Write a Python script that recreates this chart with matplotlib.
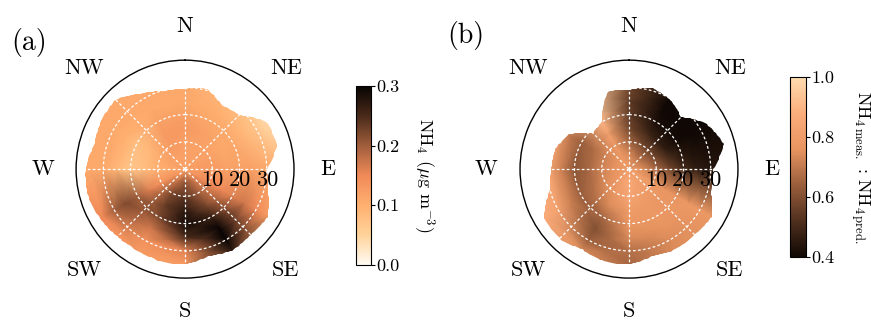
import numpy as np
import matplotlib
matplotlib.use("Agg")
import matplotlib.pyplot as plt
from matplotlib.colors import LinearSegmentedColormap
from matplotlib.patches import PathPatch
from matplotlib.path import Path

plt.rcParams["font.family"] = ["cmr10", "DejaVu Serif"]
plt.rcParams["mathtext.fontset"] = "cm"
plt.rcParams["axes.unicode_minus"] = False
plt.rcParams["axes.formatter.use_mathtext"] = True

# ---------- data ----------
# grid of the polar surface: wind direction (deg, clockwise from N) x wind speed
DIRECTIONS = [0, 30, 60, 90, 120, 150, 180, 210, 240, 270, 300, 330]
SPEEDS = [0, 5, 10, 15, 20, 25, 30, 35, 40]

# (a) NH4 concentration (ug m-3), one row per direction
NH4_A = [
    [0.12, 0.12, 0.12, 0.13, 0.12, 0.11, 0.11, 0.11, 0.11],
    [0.12, 0.12, 0.12, 0.12, 0.11, 0.10, 0.09, 0.08, 0.08],
    [0.12, 0.12, 0.12, 0.11, 0.11, 0.09, 0.07, 0.04, 0.04],
    [0.12, 0.13, 0.13, 0.12, 0.12, 0.12, 0.11, 0.10, 0.10],
    [0.12, 0.14, 0.15, 0.15, 0.16, 0.17, 0.15, 0.13, 0.13],
    [0.12, 0.18, 0.20, 0.22, 0.26, 0.30, 0.30, 0.27, 0.27],
    [0.12, 0.21, 0.24, 0.27, 0.29, 0.25, 0.16, 0.13, 0.13],
    [0.12, 0.18, 0.22, 0.23, 0.22, 0.17, 0.14, 0.13, 0.13],
    [0.12, 0.14, 0.14, 0.16, 0.20, 0.22, 0.20, 0.15, 0.15],
    [0.12, 0.11, 0.10, 0.08, 0.07, 0.09, 0.11, 0.11, 0.11],
    [0.12, 0.12, 0.11, 0.09, 0.08, 0.10, 0.11, 0.11, 0.11],
    [0.12, 0.12, 0.13, 0.13, 0.12, 0.11, 0.11, 0.11, 0.11],
]

# (b) ratio measured / predicted NH4
RATIO_B = [
    [0.80, 0.74, 0.66, 0.58, 0.55, 0.55, 0.58, 0.58, 0.58],
    [0.80, 0.70, 0.58, 0.48, 0.42, 0.40, 0.40, 0.40, 0.40],
    [0.80, 0.70, 0.58, 0.46, 0.41, 0.40, 0.40, 0.40, 0.40],
    [0.80, 0.74, 0.66, 0.58, 0.50, 0.46, 0.44, 0.44, 0.44],
    [0.80, 0.80, 0.78, 0.77, 0.77, 0.78, 0.78, 0.78, 0.78],
    [0.80, 0.82, 0.80, 0.78, 0.78, 0.76, 0.74, 0.74, 0.74],
    [0.80, 0.86, 0.84, 0.80, 0.77, 0.74, 0.68, 0.66, 0.66],
    [0.80, 0.82, 0.78, 0.74, 0.66, 0.60, 0.64, 0.74, 0.74],
    [0.80, 0.78, 0.74, 0.68, 0.64, 0.72, 0.82, 0.86, 0.86],
    [0.80, 0.76, 0.72, 0.66, 0.62, 0.72, 0.85, 0.88, 0.88],
    [0.80, 0.76, 0.72, 0.67, 0.64, 0.70, 0.82, 0.88, 0.88],
    [0.80, 0.78, 0.78, 0.82, 0.90, 0.95, 0.96, 0.96, 0.96],
]

# outer limit of the data coverage (wind speed) every 15 deg
EXTENT_DIRS = list(range(0, 360, 15))
EXTENT_A = [29.5, 30.5, 27, 28, 34.5, 35, 30, 31.5, 35, 34, 34.5, 33,
            35, 35, 34.5, 35, 36, 37, 36.5, 34.5, 35.5, 36, 32, 29.6]
EXTENT_B = [29, 31, 29.6, 27, 33, 36, 31, 31, 35, 34, 34, 33,
            35, 35, 34, 36, 36, 30, 28.5, 28, 25.5, 18.5, 20, 29.5]

COMPASS = ["N", "NE", "E", "SE", "S", "SW", "W", "NW"]
RTICKS = [10, 20, 30]
RMAX = 40

CMAP_A = LinearSegmentedColormap.from_list(
    "nh4", ["#fffaf2", "#ffd39a", "#ffb070", "#f08a58", "#a05e3c", "#4a2a1a", "#080403"])
CMAP_B = LinearSegmentedColormap.from_list(
    "ratio", ["#100804", "#50301e", "#9a5e3c", "#e89460", "#fcae7c", "#ffdcb0"])


def polar_panel(ax, values, extent, cmap, vmin, vmax):
    theta = np.deg2rad(DIRECTIONS + [360])
    vals = np.array(values)
    vals = np.vstack([vals, vals[:1]])
    TH, R = np.meshgrid(theta, SPEEDS, indexing="ij")
    mesh = ax.pcolormesh(TH, R, vals, shading="gouraud", cmap=cmap,
                         vmin=vmin, vmax=vmax, rasterized=True)

    # coverage outline, closed back on its first point
    verts = np.column_stack([np.deg2rad(EXTENT_DIRS + [360]), extent + extent[:1]])
    outline = Path(verts, _interpolation_steps=12)
    mesh.set_clip_path(PathPatch(outline, transform=ax.transData))

    ax.set_theta_zero_location("N")
    ax.set_theta_direction(-1)
    ax.set_rlim(0, RMAX)
    ax.set_rticks(RTICKS)
    ax.set_yticklabels([])
    ax.set_xticks(np.deg2rad(np.arange(0, 360, 45)))
    ax.set_xticklabels([])
    ax.grid(True, color="white", linestyle=(0, (2.2, 1.8)), linewidth=0.9)
    ax.spines["polar"].set_linewidth(1.0)
    ax.tick_params(length=0)

    for ang, lab in zip(range(0, 360, 45), COMPASS):
        ax.text(np.deg2rad(ang), 52.3, lab, ha="center", va="center",
                fontsize=16, clip_on=False)
    for r in RTICKS:
        ax.annotate(str(r), xy=(np.pi / 2, r), xytext=(0, -11),
                    textcoords="offset pixels", ha="center", va="center",
                    fontsize=16, zorder=5)
    return mesh


fig = plt.figure(figsize=(8.71, 3.2), dpi=100)

ax_a = fig.add_axes([0.0873, 0.131, 0.2503, 0.681], projection="polar")
mesh_a = polar_panel(ax_a, NH4_A, EXTENT_A, CMAP_A, 0.0, 0.3)
cax_a = fig.add_axes([0.4087, 0.172, 0.0172, 0.559])
cb_a = fig.colorbar(mesh_a, cax=cax_a)
cb_a.set_ticks([0.0, 0.1, 0.2, 0.3])
cb_a.set_ticklabels(["0.0", "0.1", "0.2", "0.3"])
cb_a.set_label(r"NH$_4$ ($\mu$g m$^{-3}$)", rotation=270, labelpad=26, fontsize=13)

ax_b = fig.add_axes([0.597, 0.131, 0.2503, 0.681], projection="polar")
mesh_b = polar_panel(ax_b, RATIO_B, EXTENT_B, CMAP_B, 0.4, 1.0)
cax_b = fig.add_axes([0.907, 0.197, 0.0184, 0.5625])
cb_b = fig.colorbar(mesh_b, cax=cax_b)
cb_b.set_ticks([0.4, 0.6, 0.8, 1.0])
cb_b.set_ticklabels(["0.4", "0.6", "0.8", "1.0"])
cb_b.set_label(r"NH$_{4\,\mathrm{meas.}}$ : NH$_{4\,\mathrm{pred.}}$",
               rotation=270, labelpad=27, fontsize=13)

for cb in (cb_a, cb_b):
    cb.ax.tick_params(labelsize=13, length=3, width=0.8, pad=1)
    cb.outline.set_linewidth(0.8)

fig.text(0.034, 0.868, "(a)", fontsize=20, ha="center", va="center")
fig.text(0.535, 0.89, "(b)", fontsize=20, ha="center", va="center")

fig.savefig("out.png", dpi=100)
